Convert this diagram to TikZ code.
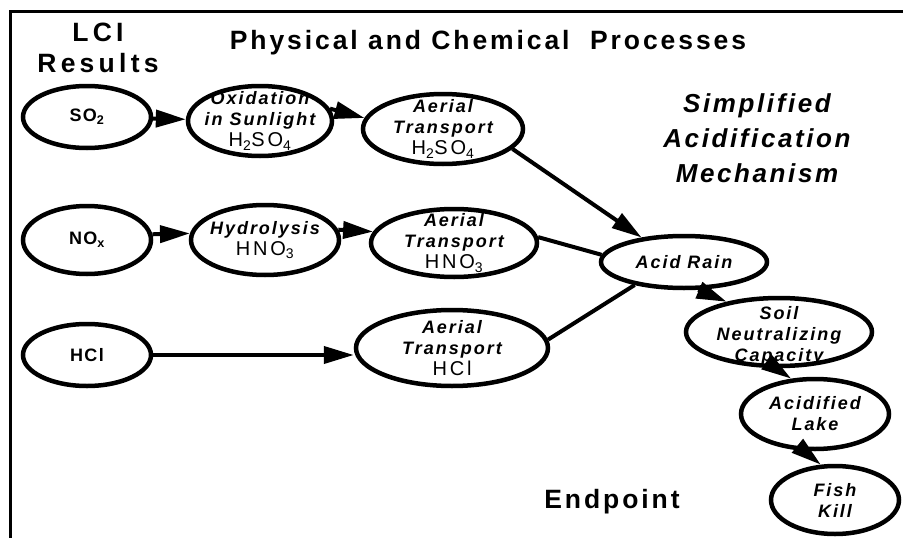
\documentclass[tikz,border=0pt]{standalone}
\usepackage{fontspec}
\setmainfont{Liberation Sans}
\newfontfamily\hdr[LetterSpace=11]{Liberation Sans}
\newfontfamily\lcif[LetterSpace=16]{Liberation Sans}
\newfontfamily\ttf[LetterSpace=10]{Liberation Sans}
\newfontfamily\ovf[LetterSpace=11]{Liberation Sans}
\newfontfamily\obf[LetterSpace=8]{Liberation Sans}
\newfontfamily\chff[LetterSpace=14]{Liberation Sans}
\usetikzlibrary{shapes.geometric,arrows.meta}
\newcommand\chf[1]{{\chff\mdseries\upshape\fontsize{20}{21}\selectfont #1}}
\tikzset{
  ov/.style={ellipse, draw, line width=4.5pt, inner sep=0pt, fill=white},
  lt/.style={align=center, inner sep=0pt, font=\ovf\bfseries\itshape\fontsize{18}{21}\selectfont},
  lb/.style={align=center, inner sep=0pt, font=\obf\bfseries\fontsize{18}{21}\selectfont},
  hd/.style={align=center, inner sep=0pt, font=\hdr\bfseries\fontsize{26.5}{31}\selectfont},
  ttl/.style={align=center, inner sep=0pt, font=\ttf\bfseries\itshape\fontsize{26}{35}\selectfont},
  arr/.style={line width=4pt, -{Triangle[length=30pt,width=17pt]}},
  ln/.style={line width=4pt}
}
\begin{document}
\begin{tikzpicture}[x=1pt,y=-1pt]
\useasboundingbox (0,0) rectangle (903,538);
\draw[line width=3pt] (903,11) coordinate (tr) -- (10,11) coordinate (tl) -- (10,538) coordinate (bl);

\node[hd, font=\lcif\bfseries\fontsize{26.5}{31}\selectfont] (lci) at (98,48) {LCI\\Results};
\node[hd] (phys) at (488,43) {Physical and Chemical\ \ Processes};
\node[ttl] (simp) at (757,138) {Simplified\\Acidification\\Mechanism};
\node[hd] (endp) at (612,502) {Endpoint};

\node[ov, minimum width=128pt, minimum height=62pt, label={[lb]center:{SO\textsubscript{2}}}] (so2) at (87,117) {};
\node[ov, minimum width=144pt, minimum height=70pt, label={[lt]center:{Oxidation\\in Sunlight\\\chf{H\textsubscript{2}SO\textsubscript{4}}}}] (ox) at (260,121) {};
\node[ov, minimum width=160pt, minimum height=70pt, label={[lt]center:{Aerial\\Transport\\\chf{H\textsubscript{2}SO\textsubscript{4}}}}] (aer1) at (443,129) {};

\node[ov, minimum width=128pt, minimum height=68pt, label={[lb]center:{NO\textsubscript{x}}}] (nox) at (87,240) {};
\node[ov, minimum width=148pt, minimum height=70pt, label={[lt]center:{Hydrolysis\\\chf{HNO\textsubscript{3}}}}] (hyd) at (265,240) {};
\node[ov, minimum width=166pt, minimum height=68pt, label={[lt]center:{Aerial\\Transport\\\chf{HNO\textsubscript{3}}}}] (aer2) at (454,243) {};

\node[ov, minimum width=128pt, minimum height=62pt, label={[lb]center:{HCl}}] (hcl) at (87,355) {};
\node[ov, minimum width=192pt, minimum height=76pt, label={[lt]center:{Aerial\\Transport\\\chf{HCl}}}] (aer3) at (452,348) {};

\node[ov, minimum width=166pt, minimum height=52pt, label={[lt]center:{Acid Rain}}] (rain) at (684,262) {};
\node[ov, minimum width=186pt, minimum height=68pt] (soil) at (779,332) {};
\node[lt] (soilT) at (779,336) {Soil\\Neutralizing\\Capacity};
\node[ov, minimum width=148pt, minimum height=70pt, label={[lt]center:{Acidified\\Lake}}] (lake) at (815,414) {};
\node[ov, minimum width=128pt, minimum height=68pt, label={[lt]center:{Fish\\Kill}}] (fish) at (835,500) {};

\draw[arr] (so2) -- (ox);
\draw[arr] (ox.10) -- (aer1.172);
\draw[arr] (aer1.-16) -- (rain.150);
\draw[arr] (nox.5) -- (hyd.175);
\draw[arr] (hyd.8) -- (aer2.172);
\draw[ln] (aer2.4) -- (rain.175);
\draw[arr] (hcl.east) -- (hcl.east -| aer3.west);
\draw[ln] (aer3.5) -- (rain.205);
\draw[arr] (rain.-63) -- (soil.150);
\draw[arr] (soil.-95) -- (lake.124);
\draw[arr] (lake.-107) -- (fish.112);
\end{tikzpicture}
\end{document}
